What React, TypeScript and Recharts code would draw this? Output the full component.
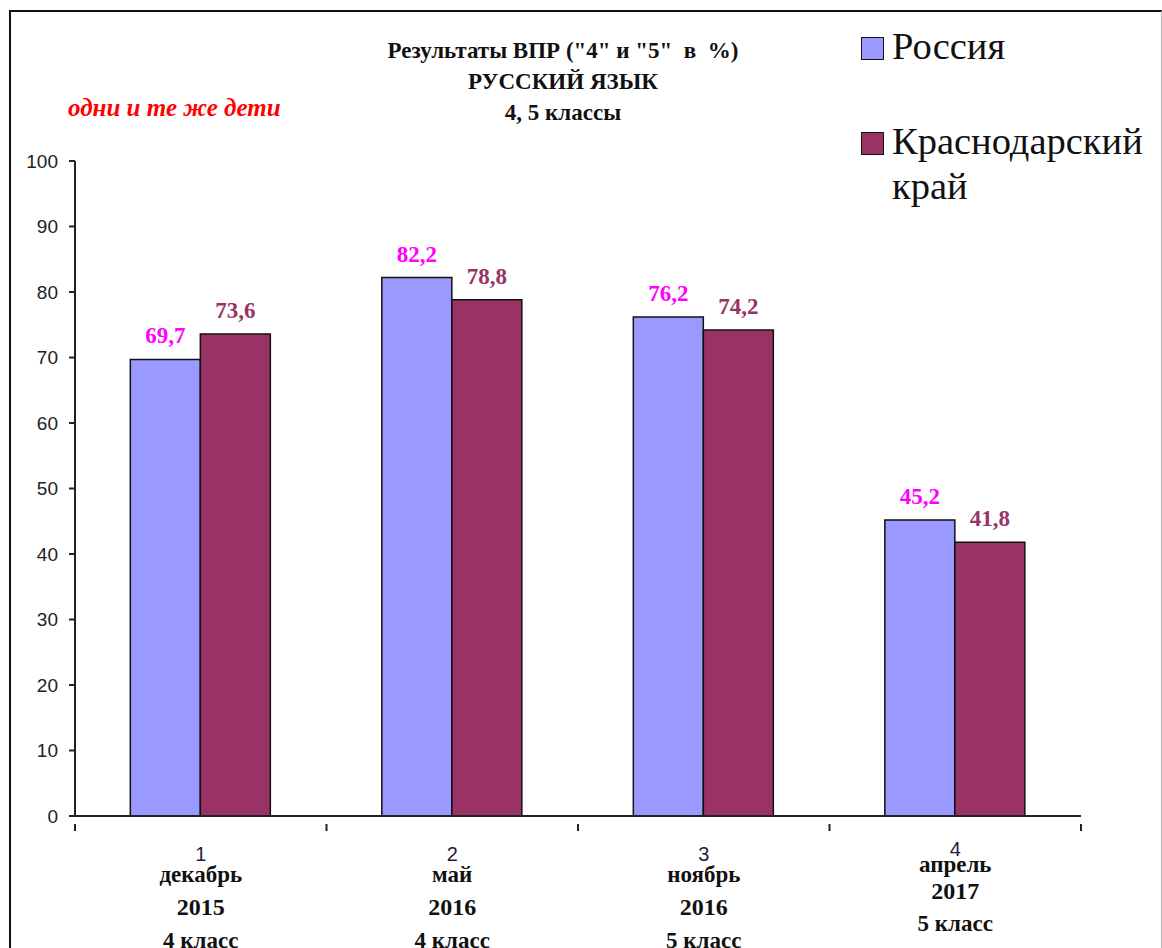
import React from 'react';
import { BarChart, Bar, XAxis, YAxis, LabelList } from 'recharts';

const numbers = ['1', '2', '3', '4'];
const months = ['декабрь', 'май', 'ноябрь', 'апрель'];
const years = ['2015', '2016', '2016', '2017'];
const grades = ['4 класс', '4 класс', '5 класс', '5 класс'];
const russia = [69.7, 82.2, 76.2, 45.2];
const krasnodar = [73.6, 78.8, 74.2, 41.8];
const yTicks = [0, 10, 20, 30, 40, 50, 60, 70, 80, 90, 100];

const COLOR_RUSSIA = '#9999FF';
const COLOR_KRASNODAR = '#993366';
const AXIS_COLOR = '#222';
const SERIF = '"Liberation Serif", "Times New Roman", serif';
const SANS = '"Liberation Sans", Arial, sans-serif';

const WIDTH = 1162;
const HEIGHT = 948;
const MARGIN = { top: 161, right: 81, bottom: 0, left: 0 };
const Y_AXIS_W = 75;
const HALF_BAND = (WIDTH - MARGIN.left - MARGIN.right - Y_AXIS_W) / numbers.length / 2;

const data = numbers.map((n, i) => ({
  name: n,
  russia: russia[i],
  krasnodar: krasnodar[i],
}));

const fmt = (v: number) => String(v).replace('.', ',');

function CategoryTick(props: any) {
  const { x, y, index } = props;
  // the last label sits a bit higher in the original
  const rows = index === 3 ? [27, 43, 69, 102] : [32, 53, 85, 119];
  const bold = { fontFamily: SERIF, fontWeight: 'bold' as const, fill: '#111', textAnchor: 'middle' as const, dominantBaseline: 'middle' as const };
  return (
    <g>
      {index === 0 && (
        <line x1={x - HALF_BAND} y1={y} x2={x - HALF_BAND} y2={y + 7} stroke={AXIS_COLOR} strokeWidth={2} />
      )}
      <line x1={x + HALF_BAND} y1={y} x2={x + HALF_BAND} y2={y + 7} stroke={AXIS_COLOR} strokeWidth={2} />
      <text x={x} y={y + rows[0]} textAnchor="middle" dominantBaseline="middle" fontFamily={SANS} fontSize={20} fill="#2a1a3a">
        {numbers[index]}
      </text>
      <text x={x} y={y + rows[1]} {...bold} fontSize={23}>{months[index]}</text>
      <text x={x} y={y + rows[2]} {...bold} fontSize={24}>{years[index]}</text>
      <text x={x} y={y + rows[3]} {...bold} fontSize={23}>{grades[index]}</text>
    </g>
  );
}

function LegendBox() {
  const sq = (color: string) => (
    <span style={{ display: 'inline-block', width: 21, height: 21, background: color, border: '1.5px solid #111', marginRight: 8, marginTop: 13, flexShrink: 0 }} />
  );
  const txt: React.CSSProperties = { fontFamily: SERIF, fontSize: 38.5, lineHeight: '45px', color: '#111' };
  return (
    <div style={{ position: 'absolute', left: 861, top: 24, width: 300 }}>
      <div style={{ display: 'flex', alignItems: 'flex-start' }}>
        {sq(COLOR_RUSSIA)}
        <span style={txt}>Россия</span>
      </div>
      <div style={{ display: 'flex', alignItems: 'flex-start', marginTop: 50 }}>
        {sq(COLOR_KRASNODAR)}
        <span style={txt}>Краснодарский<br />край</span>
      </div>
    </div>
  );
}

export default function App() {
  return (
    <div style={{ position: 'absolute', left: 0, top: 0, width: WIDTH, height: HEIGHT, background: '#fff', overflow: 'hidden' }}>
      <div style={{ position: 'absolute', left: 9, top: 10, width: 1150, height: 960, borderLeft: '2.5px solid #111', borderTop: '2.5px solid #111', borderRight: '1px solid #bbb' }} />
      <BarChart
        width={WIDTH}
        height={HEIGHT}
        data={data}
        margin={MARGIN}
        barCategoryGap="22%"
        barGap={0}
      >
        <XAxis
          dataKey="name"
          height={132}
          axisLine={{ stroke: AXIS_COLOR, strokeWidth: 2 }}
          tickLine={false}
          tick={<CategoryTick />}
          interval={0}
        />
        <YAxis
          type="number"
          domain={[0, 100]}
          ticks={yTicks}
          width={Y_AXIS_W}
          axisLine={{ stroke: AXIS_COLOR, strokeWidth: 2 }}
          tickLine={{ stroke: AXIS_COLOR, strokeWidth: 2 }}
          tickSize={6}
          tickMargin={11}
          tick={{ fontFamily: SANS, fontSize: 19, fill: '#222' }}
        />
        <Bar dataKey="russia" name="Россия" fill={COLOR_RUSSIA} stroke="#111" strokeWidth={1.5} isAnimationActive={false}>
          <LabelList dataKey="russia" position="top" offset={16} formatter={fmt} fill="#ff00ff" fontFamily={SERIF} fontWeight="bold" fontSize={23} />
        </Bar>
        <Bar dataKey="krasnodar" name="Краснодарский край" fill={COLOR_KRASNODAR} stroke="#111" strokeWidth={1.5} isAnimationActive={false}>
          <LabelList dataKey="krasnodar" position="top" offset={16} formatter={fmt} fill={COLOR_KRASNODAR} fontFamily={SERIF} fontWeight="bold" fontSize={23} />
        </Bar>
      </BarChart>
      <div style={{ position: 'absolute', left: 213, top: 35, width: 700, textAlign: 'center', fontFamily: SERIF, fontWeight: 'bold', fontSize: 23, lineHeight: '31px', color: '#111' }}>
        <div style={{ whiteSpace: 'pre' }}>{'Результаты ВПР ("4" и "5"  в  %)'}</div>
        <div>РУССКИЙ ЯЗЫК</div>
        <div>4, 5 классы</div>
      </div>
      <div style={{ position: 'absolute', left: 68, top: 94, fontFamily: SERIF, fontStyle: 'italic', fontWeight: 'bold', fontSize: 25, color: '#ff0000' }}>
        одни и те же дети
      </div>
      <LegendBox />
    </div>
  );
}
